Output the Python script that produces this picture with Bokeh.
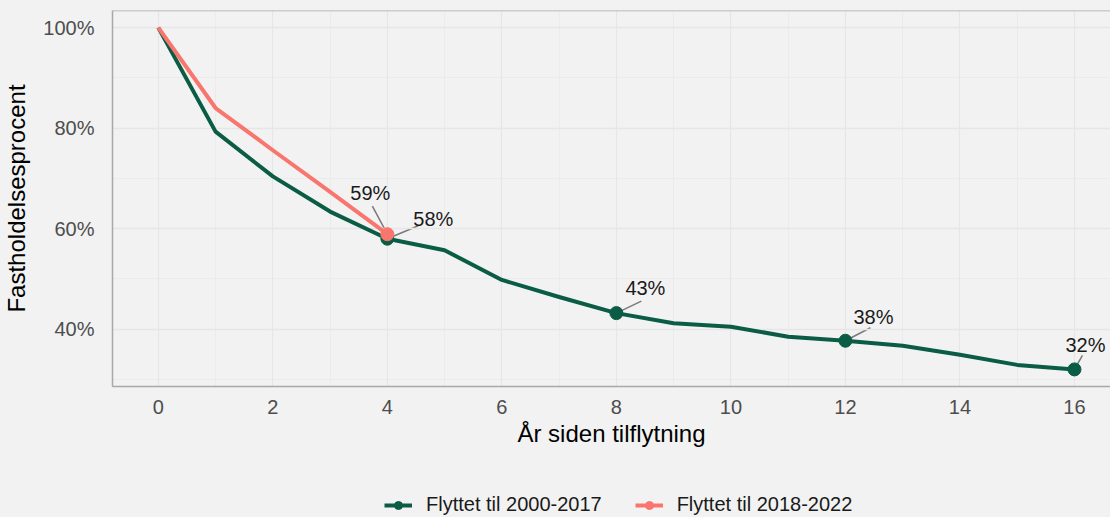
from bokeh.plotting import figure
from bokeh.layouts import column
from bokeh.models import (FixedTicker, PrintfTickFormatter, Range1d, Span, Legend,
                          LegendItem, Label)
from bokeh.embed import file_html
from bokeh.resources import INLINE

# ---------------- data ----------------
years_a = list(range(17))
share_a = [100, 79.3, 70.4, 63.4, 58.0, 55.7, 49.8, 46.4, 43.2, 41.2, 40.5,
           38.5, 37.7, 36.7, 34.9, 32.9, 32.0]
years_b = [0, 1, 2, 3, 4]
share_b = [100, 84.0, 75.6, 67.3, 58.9]
label_a_idx = [4, 8, 12, 16]
label_b_idx = [4]
series_names = ["Flyttet til 2000-2017", "Flyttet til 2018-2022"]
x_ticks = [0, 2, 4, 6, 8, 10, 12, 14, 16]
x_minor = [1, 3, 5, 7, 9, 11, 13, 15]
y_ticks = [40, 60, 80, 100]
y_minor = [30, 50, 70, 90]
x_title = "År siden tilflytning"
y_title = "Fastholdelsesprocent"

# ---------------- style ----------------
GREEN = "#0b5c45"
RED = "#f8766d"
BG = "#f2f2f2"
FONT = "Liberation Sans"

W = 1110
H_MAIN, H_LEG = 457, 60
LEFT, TOP, BOTTOM = 110, 10, 71
x0, ux = -0.8, 57.375          # data start, px per unit
y0, y1 = 28.6, 103.4
frame_w = W - LEFT
frame_h = H_MAIN - TOP - BOTTOM
uy = frame_h / (y1 - y0)

p = figure(width=W, height=H_MAIN, output_backend="svg", toolbar_location=None,
           x_range=Range1d(x0, x0 + frame_w / ux), y_range=Range1d(y0, y1),
           min_border_left=LEFT, min_border_right=0, min_border_top=TOP,
           min_border_bottom=BOTTOM)
p.background_fill_color = BG
p.border_fill_color = BG
p.outline_line_color = None

# axes
p.xaxis.ticker = FixedTicker(ticks=x_ticks, minor_ticks=x_minor)
p.yaxis.ticker = FixedTicker(ticks=y_ticks, minor_ticks=y_minor)
p.yaxis.formatter = PrintfTickFormatter(format="%d%%")
for ax in (p.xaxis[0], p.yaxis[0]):
    ax.major_tick_line_color = None
    ax.minor_tick_line_color = None
    ax.axis_line_color = "#a8a8a8"
    ax.axis_line_width = 1.5
    ax.major_label_text_font = FONT
    ax.major_label_text_font_size = "20px"
    ax.major_label_text_color = "#4d4d4d"
    ax.axis_label_text_font = FONT
    ax.axis_label_text_font_size = "24px"
    ax.axis_label_text_font_style = "normal"
    ax.axis_label_text_color = "#000000"
p.xaxis.axis_label = x_title
p.yaxis.axis_label = y_title
p.xaxis.major_label_standoff = 7
p.yaxis.major_label_standoff = 12
p.xaxis.axis_label_standoff = 3
p.yaxis.axis_label_standoff = 10

p.add_layout(Span(location=y1, dimension="width", line_color="#a8a8a8", line_width=1.5))

# grid
p.xgrid.grid_line_color = "#e6e6e6"
p.ygrid.grid_line_color = "#e6e6e6"
p.xgrid.grid_line_width = 1.3
p.ygrid.grid_line_width = 1.3
p.xgrid.minor_grid_line_color = "#e9e9e9"
p.ygrid.minor_grid_line_color = "#e9e9e9"
p.xgrid.minor_grid_line_width = 0.8
p.ygrid.minor_grid_line_width = 0.8

# lines
p.line(years_a, share_a, line_color=GREEN, line_width=4, line_join="round")
p.line(years_b, share_b, line_color=RED, line_width=4, line_join="round")
p.scatter([years_a[i] for i in label_a_idx], [share_a[i] for i in label_a_idx],
          size=13, color=GREEN)
p.scatter([years_b[i] for i in label_b_idx], [share_b[i] for i in label_b_idx],
          size=13, color=RED)

# labels with leader segments (offsets in pixels: label centre, leader end)
lab_style_a = {4: ((46, -20), (31, -13)), 8: ((29, -25), (25, -12)),
               12: ((28, -24), (25, -13)), 16: ((11, -24), (8, -14))}
lab_style_b = {4: ((-17, -41), (-15, -28))}

def add_labels(xs, ys, idxs, style):
    sx0, sy0, sx1, sy1 = [], [], [], []
    for i in idxs:
        (lx, ly), (ex, ey) = style[i]
        x, y = xs[i], ys[i]
        sx0.append(x); sy0.append(y)
        sx1.append(x + ex / ux); sy1.append(y - ey / uy)
        p.add_layout(Label(x=x, y=y, x_offset=lx, y_offset=-ly, text=f"{round(y):d}%",
                           text_font=FONT, text_font_size="20px", text_color="#1a1a1a",
                           text_align="center", text_baseline="middle"))
    p.segment(sx0, sy0, sx1, sy1, line_color="#7a7a7a", line_width=1.5, level="underlay")

add_labels(years_a, share_a, label_a_idx, lab_style_a)
add_labels(years_b, share_b, label_b_idx, lab_style_b)

# ---------------- legend strip (frame aligned with the main plot) ----------------
q = figure(width=W, height=H_LEG, output_backend="svg", toolbar_location=None,
           x_range=Range1d(0, 1), y_range=Range1d(0, 1),
           x_axis_location=None, y_axis_location=None,
           min_border_left=LEFT, min_border_right=0, min_border_top=0, min_border_bottom=0)
q.background_fill_color = BG
q.border_fill_color = BG
q.outline_line_color = None
q.grid.visible = False
off = [-5, -4]   # keys drawn outside the visible range; only their legend glyphs show
ga = q.line(off, off, line_color=GREEN, line_width=4)
gpa = q.scatter(off, off, size=13, color=GREEN)
gb = q.line(off, off, line_color=RED, line_width=4)
gpb = q.scatter(off, off, size=13, color=RED)
legend = Legend(items=[LegendItem(label=series_names[0], renderers=[ga, gpa]),
                       LegendItem(label=series_names[1], renderers=[gb, gpb])],
                orientation="horizontal", location=(272, 1),
                background_fill_color=BG, background_fill_alpha=1,
                border_line_color=None, label_text_font=FONT,
                label_text_font_size="20px", label_text_color="#1a1a1a",
                glyph_width=28, glyph_height=20, label_standoff=14, spacing=33,
                padding=0, margin=0)
q.add_layout(legend, "center")

layout = column(p, q, spacing=0, styles={"background-color": BG})
open("out.html", "w").write(file_html(layout, INLINE))
